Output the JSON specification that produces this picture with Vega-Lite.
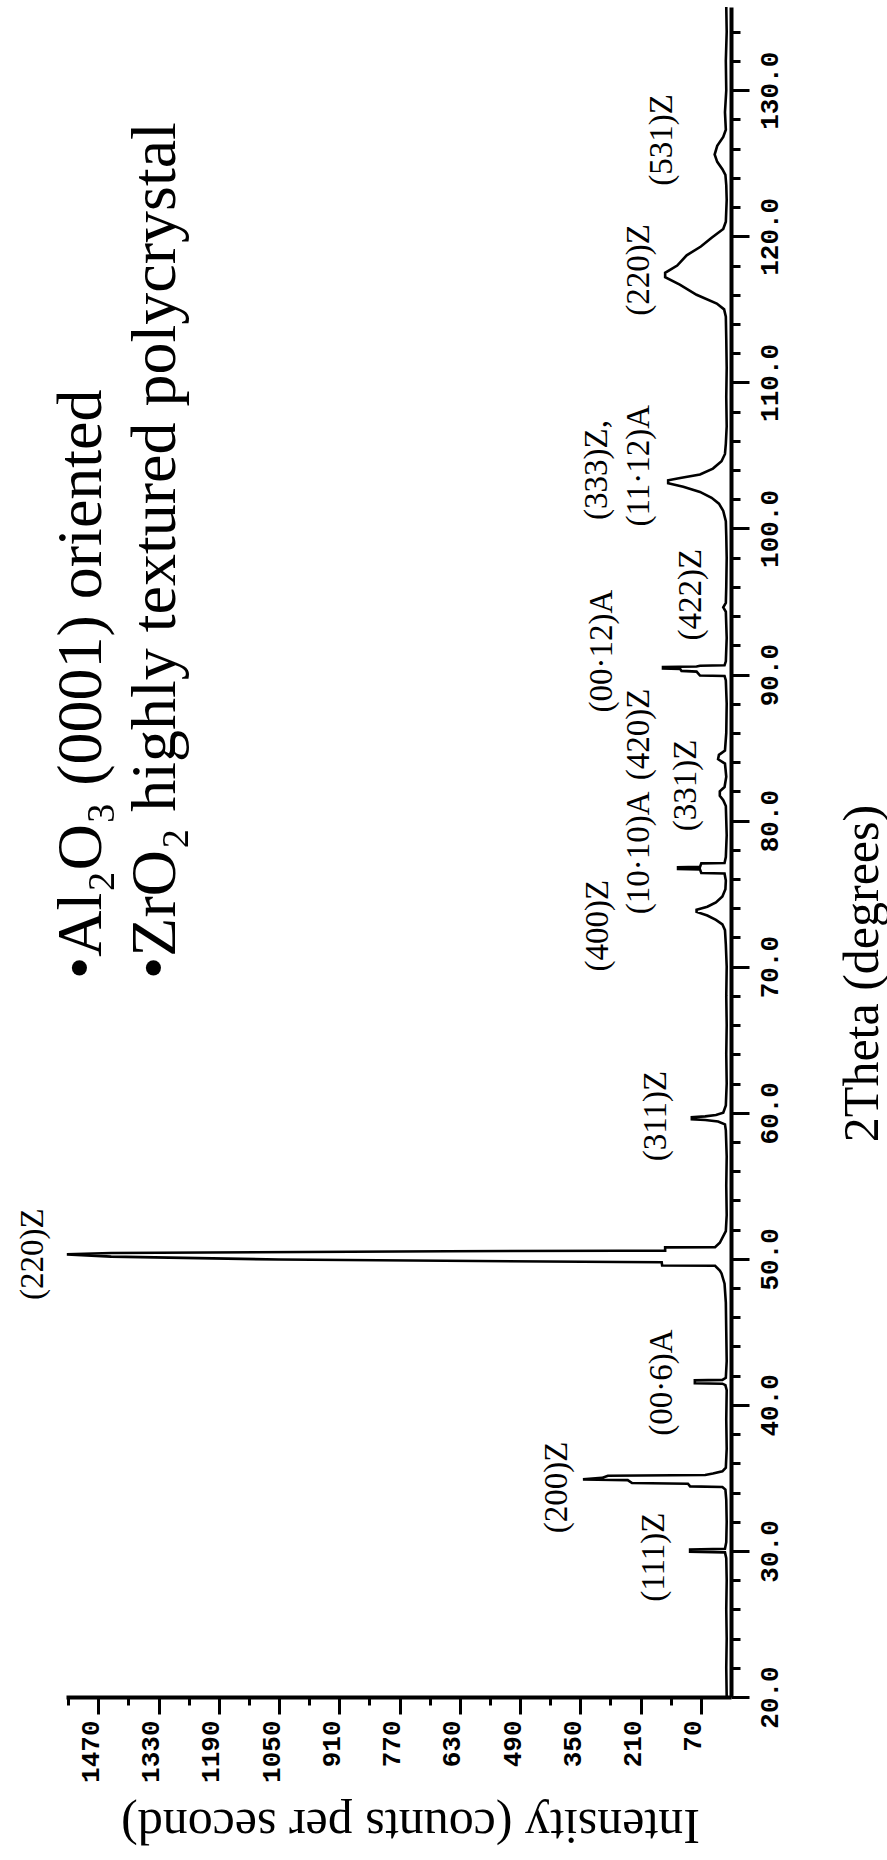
{
  "$schema": "https://vega.github.io/schema/vega-lite/v6.json",
  "autosize": {"type": "none"},
  "width": 665,
  "height": 1690,
  "padding": {"left": 66, "top": 7, "right": 156, "bottom": 163},
  "background": "white",
  "config": {"view": {"stroke": null}},
  "datasets": {
    "xrd": [
      {"two_theta": 20.0, "intensity": 10}, {"two_theta": 22, "intensity": 11}, {"two_theta": 24, "intensity": 10},
      {"two_theta": 26, "intensity": 11}, {"two_theta": 28, "intensity": 10}, {"two_theta": 29.5, "intensity": 11},
      {"two_theta": 29.9, "intensity": 14}, {"two_theta": 29.95, "intensity": 95}, {"two_theta": 30.1, "intensity": 95},
      {"two_theta": 30.15, "intensity": 14}, {"two_theta": 30.6, "intensity": 11}, {"two_theta": 32, "intensity": 10},
      {"two_theta": 33.5, "intensity": 11}, {"two_theta": 34.2, "intensity": 13}, {"two_theta": 34.38, "intensity": 20},
      {"two_theta": 34.42, "intensity": 95}, {"two_theta": 34.6, "intensity": 100}, {"two_theta": 34.65, "intensity": 230},
      {"two_theta": 34.85, "intensity": 240}, {"two_theta": 34.9, "intensity": 344}, {"two_theta": 35.0, "intensity": 300},
      {"two_theta": 35.15, "intensity": 286}, {"two_theta": 35.2, "intensity": 60}, {"two_theta": 35.3, "intensity": 42},
      {"two_theta": 35.45, "intensity": 20}, {"two_theta": 35.7, "intensity": 12}, {"two_theta": 37, "intensity": 10},
      {"two_theta": 39, "intensity": 11}, {"two_theta": 41.0, "intensity": 10}, {"two_theta": 41.35, "intensity": 13},
      {"two_theta": 41.45, "intensity": 20}, {"two_theta": 41.48, "intensity": 84}, {"two_theta": 41.68, "intensity": 84},
      {"two_theta": 41.71, "intensity": 20}, {"two_theta": 41.85, "intensity": 12}, {"two_theta": 43, "intensity": 10},
      {"two_theta": 45, "intensity": 11}, {"two_theta": 47, "intensity": 12}, {"two_theta": 48.3, "intensity": 15},
      {"two_theta": 49.0, "intensity": 22}, {"two_theta": 49.2, "intensity": 26}, {"two_theta": 49.52, "intensity": 37},
      {"two_theta": 49.54, "intensity": 160}, {"two_theta": 49.76, "intensity": 161}, {"two_theta": 49.78, "intensity": 258},
      {"two_theta": 49.95, "intensity": 1050}, {"two_theta": 50.15, "intensity": 1440}, {"two_theta": 50.3, "intensity": 1543},
      {"two_theta": 50.4, "intensity": 1440}, {"two_theta": 50.52, "intensity": 660}, {"two_theta": 50.55, "intensity": 258},
      {"two_theta": 50.56, "intensity": 153}, {"two_theta": 50.78, "intensity": 153}, {"two_theta": 50.79, "intensity": 37},
      {"two_theta": 51.1, "intensity": 26}, {"two_theta": 51.9, "intensity": 12}, {"two_theta": 53, "intensity": 10},
      {"two_theta": 55, "intensity": 11}, {"two_theta": 57, "intensity": 10}, {"two_theta": 58.8, "intensity": 12},
      {"two_theta": 59.2, "intensity": 14}, {"two_theta": 59.4, "intensity": 30}, {"two_theta": 59.5, "intensity": 60},
      {"two_theta": 59.55, "intensity": 91}, {"two_theta": 59.7, "intensity": 91}, {"two_theta": 59.75, "intensity": 60},
      {"two_theta": 59.85, "intensity": 35}, {"two_theta": 60.0, "intensity": 18}, {"two_theta": 60.5, "intensity": 12},
      {"two_theta": 62, "intensity": 10}, {"two_theta": 64, "intensity": 11}, {"two_theta": 66, "intensity": 10},
      {"two_theta": 68, "intensity": 11}, {"two_theta": 70, "intensity": 10}, {"two_theta": 71.5, "intensity": 12},
      {"two_theta": 72.5, "intensity": 14}, {"two_theta": 72.9, "intensity": 20}, {"two_theta": 73.2, "intensity": 35},
      {"two_theta": 73.5, "intensity": 55}, {"two_theta": 73.75, "intensity": 80}, {"two_theta": 73.9, "intensity": 80},
      {"two_theta": 74.1, "intensity": 55}, {"two_theta": 74.4, "intensity": 35}, {"two_theta": 74.8, "intensity": 20},
      {"two_theta": 75.3, "intensity": 13}, {"two_theta": 75.9, "intensity": 12}, {"two_theta": 76.38, "intensity": 15},
      {"two_theta": 76.41, "intensity": 69}, {"two_theta": 76.65, "intensity": 72}, {"two_theta": 76.68, "intensity": 123},
      {"two_theta": 76.8, "intensity": 123}, {"two_theta": 76.83, "intensity": 72}, {"two_theta": 77.07, "intensity": 69},
      {"two_theta": 77.1, "intensity": 15}, {"two_theta": 77.5, "intensity": 12}, {"two_theta": 79, "intensity": 10},
      {"two_theta": 81.0, "intensity": 12}, {"two_theta": 81.4, "intensity": 18}, {"two_theta": 81.7, "intensity": 26},
      {"two_theta": 82.0, "intensity": 26}, {"two_theta": 82.3, "intensity": 15}, {"two_theta": 83, "intensity": 11},
      {"two_theta": 83.9, "intensity": 14}, {"two_theta": 84.2, "intensity": 30}, {"two_theta": 84.5, "intensity": 28},
      {"two_theta": 84.8, "intensity": 14}, {"two_theta": 86, "intensity": 11}, {"two_theta": 88, "intensity": 10},
      {"two_theta": 89.6, "intensity": 12}, {"two_theta": 89.9, "intensity": 15}, {"two_theta": 89.93, "intensity": 72},
      {"two_theta": 90.2, "intensity": 80}, {"two_theta": 90.25, "intensity": 115}, {"two_theta": 90.38, "intensity": 118},
      {"two_theta": 90.42, "intensity": 158}, {"two_theta": 90.52, "intensity": 158}, {"two_theta": 90.55, "intensity": 80},
      {"two_theta": 90.6, "intensity": 72}, {"two_theta": 90.63, "intensity": 15}, {"two_theta": 90.9, "intensity": 12},
      {"two_theta": 92.5, "intensity": 10}, {"two_theta": 94.3, "intensity": 12}, {"two_theta": 94.6, "intensity": 18},
      {"two_theta": 94.9, "intensity": 12}, {"two_theta": 96, "intensity": 11}, {"two_theta": 98, "intensity": 10},
      {"two_theta": 99.5, "intensity": 11}, {"two_theta": 100.5, "intensity": 12}, {"two_theta": 101.2, "intensity": 18},
      {"two_theta": 101.7, "intensity": 28}, {"two_theta": 102.1, "intensity": 45}, {"two_theta": 102.5, "intensity": 72},
      {"two_theta": 102.85, "intensity": 111}, {"two_theta": 103.1, "intensity": 146}, {"two_theta": 103.3, "intensity": 146},
      {"two_theta": 103.45, "intensity": 118}, {"two_theta": 103.7, "intensity": 72}, {"two_theta": 104.1, "intensity": 42},
      {"two_theta": 104.6, "intensity": 22}, {"two_theta": 105.1, "intensity": 14}, {"two_theta": 105.8, "intensity": 12},
      {"two_theta": 107, "intensity": 10}, {"two_theta": 109, "intensity": 11}, {"two_theta": 111, "intensity": 10},
      {"two_theta": 113, "intensity": 11}, {"two_theta": 114.5, "intensity": 12}, {"two_theta": 115.0, "intensity": 16},
      {"two_theta": 115.4, "intensity": 33}, {"two_theta": 116.0, "intensity": 80}, {"two_theta": 116.7, "intensity": 119},
      {"two_theta": 117.2, "intensity": 153}, {"two_theta": 117.5, "intensity": 153}, {"two_theta": 118.0, "intensity": 125},
      {"two_theta": 118.7, "intensity": 103}, {"two_theta": 119.3, "intensity": 70}, {"two_theta": 119.9, "intensity": 45},
      {"two_theta": 120.5, "intensity": 18}, {"two_theta": 121.0, "intensity": 12}, {"two_theta": 122.5, "intensity": 10},
      {"two_theta": 123.5, "intensity": 11}, {"two_theta": 124.2, "intensity": 13}, {"two_theta": 124.6, "intensity": 20},
      {"two_theta": 125.1, "intensity": 32}, {"two_theta": 125.6, "intensity": 38}, {"two_theta": 126.2, "intensity": 32},
      {"two_theta": 126.8, "intensity": 18}, {"two_theta": 127.3, "intensity": 12}, {"two_theta": 128.5, "intensity": 14},
      {"two_theta": 130, "intensity": 11}, {"two_theta": 132, "intensity": 12}, {"two_theta": 134, "intensity": 10},
      {"two_theta": 135.7, "intensity": 11}
    ],
    "labels": [
      {"label": "(220)Z", "two_theta": 50.31, "intensity": 1622},
      {"label": "(200)Z", "two_theta": 34.35, "intensity": 404},
      {"label": "(111)Z", "two_theta": 29.57, "intensity": 178},
      {"label": "(00·6)A", "two_theta": 41.53, "intensity": 160},
      {"label": "(311)Z", "two_theta": 59.78, "intensity": 174},
      {"label": "(400)Z", "two_theta": 72.8, "intensity": 309},
      {"label": "(10·10)A", "two_theta": 77.8, "intensity": 214},
      {"label": "(331)Z", "two_theta": 82.4, "intensity": 105},
      {"label": "(420)Z", "two_theta": 85.9, "intensity": 214},
      {"label": "(00·12)A", "two_theta": 91.6, "intensity": 300},
      {"label": "(422)Z", "two_theta": 95.46, "intensity": 93},
      {"label": "(333)Z,", "two_theta": 104.0, "intensity": 312},
      {"label": "(11·12)A", "two_theta": 104.3, "intensity": 214},
      {"label": "(220)Z", "two_theta": 117.7, "intensity": 214},
      {"label": "(531)Z", "two_theta": 126.6, "intensity": 160}
    ],
    "notes": [
      {"label": "•Al₂O₃ (0001) oriented", "two_theta": 69.15, "intensity": 1464},
      {"label": "•ZrO₂ highly textured polycrystal", "two_theta": 69.15, "intensity": 1291}
    ]
  },
  "resolve": {"axis": {"x": "independent", "y": "independent"}},
  "layer": [
    {
      "data": {"name": "xrd"},
      "mark": {"type": "line", "color": "black", "strokeWidth": 2.6, "clip": true},
      "encoding": {
        "x": {
          "field": "intensity", "type": "quantitative",
          "scale": {"domain": [0, 1545], "reverse": true, "nice": false, "zero": false},
          "axis": {
            "orient": "bottom",
            "values": [70, 210, 350, 490, 630, 770, 910, 1050, 1190, 1330, 1470],
            "format": "d", "grid": false,
            "domainColor": "black", "domainWidth": 4,
            "tickColor": "black", "tickSize": 17, "tickWidth": 3,
            "labelFont": "Liberation Mono", "labelFontWeight": "bold", "labelFontSize": 26, "labelColor": "black",
            "labelAngle": 270, "labelAlign": "right", "labelBaseline": "alphabetic", "labelPadding": 6,
            "labelOverlap": false, "labelFlush": false, "labelBound": false,
            "title": "Intensity (counts per second)",
            "titleFont": "Liberation Serif", "titleFontSize": 50, "titleFontWeight": "normal", "titleColor": "black",
            "titleAngle": 180, "titleAlign": "center", "titleBaseline": "middle", "titleX": 344, "titleY": 127
          }
        },
        "y": {
          "field": "two_theta", "type": "quantitative",
          "scale": {"domain": [20, 135.7], "nice": false, "zero": false},
          "axis": {
            "orient": "right",
            "values": [20, 30, 40, 50, 60, 70, 80, 90, 100, 110, 120, 130],
            "format": ".1f", "grid": false,
            "domainColor": "black", "domainWidth": 4,
            "tickColor": "black", "tickSize": 18, "tickWidth": 3,
            "labelFont": "Liberation Mono", "labelFontWeight": "bold", "labelFontSize": 26, "labelColor": "black",
            "labelAngle": 270, "labelAlign": "center", "labelBaseline": "middle", "labelPadding": 20,
            "labelOverlap": false, "labelFlush": false, "labelBound": false,
            "title": "2Theta (degrees)",
            "titleFont": "Liberation Serif", "titleFontSize": 50, "titleFontWeight": "normal", "titleColor": "black",
            "titleAngle": 270, "titleAlign": "center", "titleBaseline": "middle", "titleX": 131, "titleY": 966
          }
        },
        "order": {"field": "two_theta", "type": "quantitative"}
      }
    },
    {
      "data": {"name": "labels"},
      "mark": {"type": "text", "font": "Liberation Serif", "fontSize": 33, "angle": 270, "align": "center", "baseline": "middle", "color": "black"},
      "encoding": {
        "x": {
          "field": "intensity", "type": "quantitative",
          "axis": {
            "orient": "bottom",
            "values": [140, 280, 420, 560, 700, 840, 980, 1120, 1260, 1400, 1540],
            "labels": false, "domain": false, "grid": false, "title": null,
            "tickColor": "black", "tickSize": 8, "tickWidth": 3
          }
        },
        "y": {
          "field": "two_theta", "type": "quantitative",
          "axis": {
            "orient": "right",
            "values": [22, 24, 26, 28, 32, 34, 36, 38, 42, 44, 46, 48, 52, 54, 56, 58, 62, 64, 66, 68, 72, 74, 76, 78, 82, 84, 86, 88, 92, 94, 96, 98, 102, 104, 106, 108, 112, 114, 116, 118, 122, 124, 126, 128, 132, 134],
            "labels": false, "domain": false, "grid": false, "title": null,
            "tickColor": "black", "tickSize": 9, "tickWidth": 3
          }
        },
        "text": {"field": "label"}
      }
    },
    {
      "data": {"name": "notes"},
      "mark": {"type": "text", "font": "Liberation Serif", "fontSize": 64, "angle": 270, "align": "left", "baseline": "alphabetic", "color": "black"},
      "encoding": {
        "x": {"field": "intensity", "type": "quantitative", "axis": null},
        "y": {"field": "two_theta", "type": "quantitative", "axis": null},
        "text": {"field": "label"}
      }
    }
  ]
}
